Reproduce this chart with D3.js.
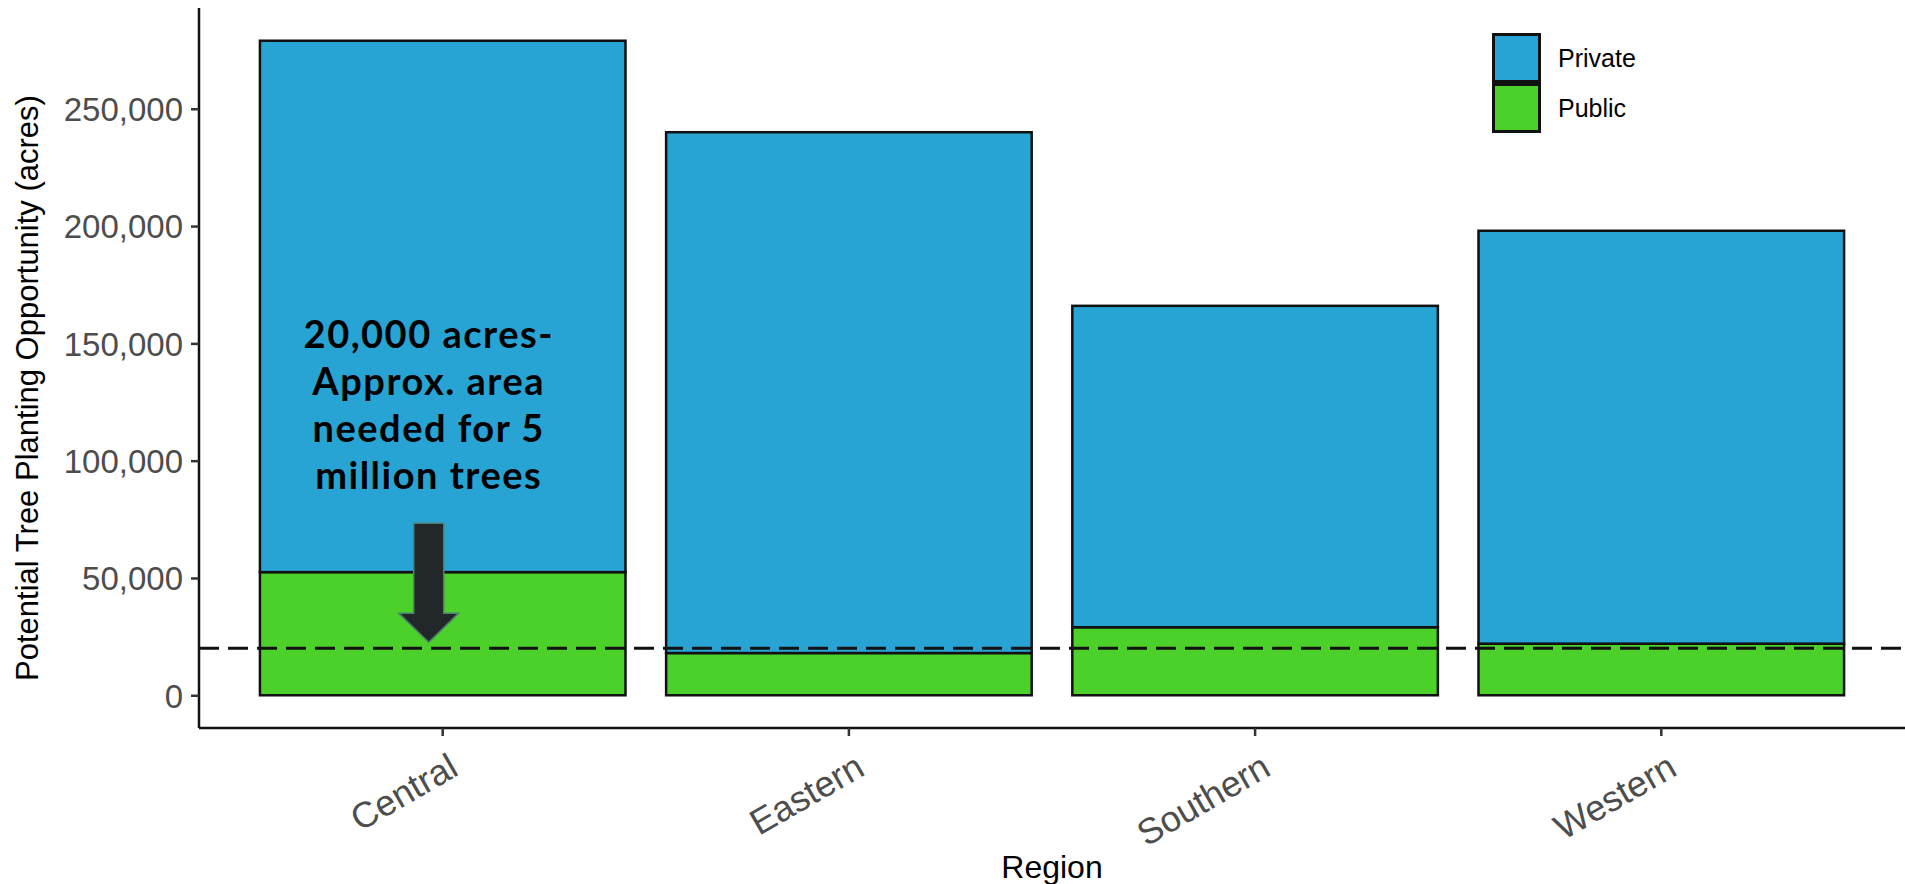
<!DOCTYPE html>
<html>
<head>
<meta charset="utf-8">
<script src="https://cdn.jsdelivr.net/npm/d3@7"></script>
<style>
  body { margin: 0; background: #fff; }
  svg { display: block; }
  .axis text { font-family: "Liberation Sans", Arial, sans-serif; fill: #4d4d4d; }
</style>
</head>
<body>
<svg id="chart" width="1905" height="884"></svg>
<script>
// data
const regions = ['Central', 'Eastern', 'Southern', 'Western'];
const publicAcres = [52500, 18000, 29000, 22000];
const privateAcres = [226500, 222000, 137000, 176000];
const seriesNames = ['Private', 'Public'];
const yTicks = [0, 50000, 100000, 150000, 200000, 250000];
const targetAcres = 20000;
const noteLines = ['20,000 acres-', 'Approx. area', 'needed for 5', 'million trees'];

const colors = { Private: '#27a4d4', Public: '#4cd12b' };

const svg = d3.select('#chart');
const panel = { left: 199, right: 1905, top: 8, bottom: 728 };

const rows = regions.map((r, i) => ({ region: r, Public: publicAcres[i], Private: privateAcres[i] }));
const stacked = d3.stack().keys(['Public', 'Private'])(rows);

const maxTotal = d3.max(rows, d => d.Public + d.Private);
const pad = maxTotal * 0.05;

const x = d3.scaleBand()
  .domain(regions)
  .range([panel.left, panel.right])
  .paddingInner(0.1)
  .paddingOuter(0.15);

const y = d3.scaleLinear()
  .domain([-pad, maxTotal + pad])
  .range([panel.bottom, panel.top]);

// bars
const layers = svg.append('g').selectAll('g')
  .data(stacked)
  .join('g')
  .attr('fill', d => colors[d.key]);

layers.selectAll('rect')
  .data(d => d)
  .join('rect')
  .attr('x', d => x(d.data.region))
  .attr('width', x.bandwidth())
  .attr('y', d => y(d[1]))
  .attr('height', d => y(d[0]) - y(d[1]))
  .attr('stroke', '#111')
  .attr('stroke-width', 2.5);

// dashed target line
svg.append('line')
  .attr('x1', panel.left).attr('x2', panel.right)
  .attr('y1', y(targetAcres)).attr('y2', y(targetAcres))
  .attr('stroke', '#111')
  .attr('stroke-width', 3)
  .attr('stroke-dasharray', '20 9');

// axes
const yAxis = d3.axisLeft(y).tickValues(yTicks).tickFormat(d3.format(',')).tickSize(8).tickPadding(8);
const xAxis = d3.axisBottom(x).tickSize(8).tickPadding(6);

const gy = svg.append('g').attr('class', 'axis')
  .attr('transform', `translate(${panel.left},0)`)
  .call(yAxis);
gy.select('.domain').attr('stroke', '#111').attr('stroke-width', 2.5).attr('d', `M0,${panel.top}V${panel.bottom}`);
gy.selectAll('.tick line').attr('stroke', '#333').attr('stroke-width', 2.5);
gy.selectAll('.tick text').style('font-size', '33px').attr('dy', '0.36em');

const gx = svg.append('g').attr('class', 'axis')
  .attr('transform', `translate(0,${panel.bottom})`)
  .call(xAxis);
gx.select('.domain').attr('stroke', '#111').attr('stroke-width', 2.5).attr('d', `M${panel.left},0H${panel.right}`);
gx.selectAll('.tick line').attr('stroke', '#333').attr('stroke-width', 2.5);
gx.selectAll('.tick text')
  .style('font-size', '36px')
  .attr('text-anchor', 'end')
  .attr('dy', '0.7em')
  .attr('transform', 'translate(-2,12) rotate(-30)');

// axis titles
svg.append('text')
  .attr('x', (panel.left + panel.right) / 2)
  .attr('y', 878)
  .attr('text-anchor', 'middle')
  .style('font-family', '"Liberation Sans", Arial, sans-serif')
  .style('font-size', '32px')
  .attr('fill', '#000')
  .text('Region');

svg.append('text')
  .attr('transform', `translate(38,${(panel.top + panel.bottom) / 2 + 20}) rotate(-90)`)
  .attr('text-anchor', 'middle')
  .style('font-family', '"Liberation Sans", Arial, sans-serif')
  .style('font-size', '31px')
  .attr('fill', '#000')
  .text('Potential Tree Planting Opportunity (acres)');

// legend
const legend = svg.append('g').attr('transform', 'translate(1492,33)');
const keyH = 50;
const item = legend.selectAll('g')
  .data(seriesNames)
  .join('g')
  .attr('transform', (d, i) => `translate(0,${i * keyH})`);
item.append('rect')
  .attr('x', 1.5).attr('y', 1.5)
  .attr('width', 46).attr('height', keyH - 3)
  .attr('fill', d => colors[d])
  .attr('stroke', '#111')
  .attr('stroke-width', 3);
item.append('text')
  .attr('x', 66).attr('y', keyH / 2)
  .attr('dy', '0.36em')
  .style('font-family', '"Liberation Sans", Arial, sans-serif')
  .style('font-size', '25px')
  .attr('fill', '#000')
  .text(d => d);

// annotation
const noteX = x('Central') + x.bandwidth() / 2 - 14;
svg.append('g').selectAll('text')
  .data(noteLines)
  .join('text')
  .attr('x', noteX)
  .attr('y', (d, i) => y(148000) + i * 47)
  .attr('text-anchor', 'middle')
  .style('font-family', 'Lato, "Open Sans", sans-serif')
  .style('font-weight', 700)
  .style('font-size', '38px')
  .style('letter-spacing', '1.5px')
  .attr('fill', '#000')
  .text(d => d);

const arrowTop = y(73300), headStart = y(35000), tip = y(22600);
const shaft = 15, head = 30;
svg.append('path')
  .attr('d', d3.line()([
    [noteX - shaft, arrowTop], [noteX + shaft, arrowTop], [noteX + shaft, headStart],
    [noteX + head, headStart], [noteX, tip], [noteX - head, headStart], [noteX - shaft, headStart]
  ]) + 'Z')
  .attr('fill', '#222729')
  .attr('stroke', '#4f7f70')
  .attr('stroke-width', 1.5);
</script>
</body>
</html>
